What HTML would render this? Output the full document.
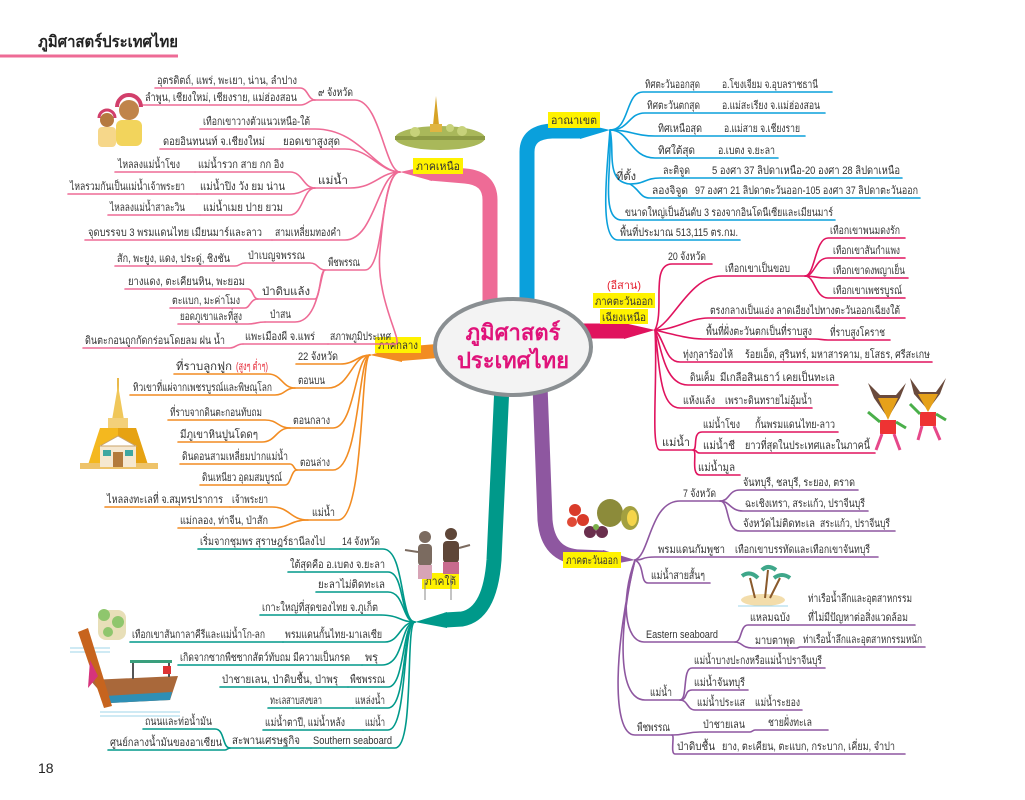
<!DOCTYPE html>
<html><head><meta charset="utf-8"><style>
html,body{margin:0;padding:0;background:#fff;}
svg{display:block;}
text{font-family:"Liberation Sans","Noto Sans CJK SC",sans-serif;font-size:11px;fill:#333;}
.b{font-weight:bold;}
path.l{fill:none;stroke-width:1.6;stroke-linecap:round;}
</style></head><body>
<svg width="1025" height="800" viewBox="0 0 1025 800" xmlns="http://www.w3.org/2000/svg">
<!-- title -->
<text x="38" y="47" class="b" style="font-size:16px;fill:#222" textLength="140" lengthAdjust="spacingAndGlyphs">ภูมิศาสตร์ประเทศไทย</text>
<line x1="0" y1="56" x2="178" y2="56" stroke="#EE6B96" stroke-width="3"/>
<text x="38" y="773" style="font-size:14px;fill:#222">18</text>

<!-- main branches -->
<path d="M490 305 L490 200 Q490 178 465 176 L430 173" stroke="#EE6B96" stroke-width="15" fill="none"/>
<polygon points="432,165 432,181 400,172" fill="#EE6B96"/>
<path d="M527 305 L527 152 Q527 132 552 131 L582 131" stroke="#0AA0DC" stroke-width="15" fill="none"/>
<polygon points="580,123 580,139 610,130" fill="#0AA0DC"/>
<path d="M580 331 L625 331" stroke="#E0135E" stroke-width="15" fill="none"/>
<polygon points="624,323 624,339 655,330" fill="#E0135E"/>
<path d="M450 350 L400 354" stroke="#F28C22" stroke-width="14" fill="none"/>
<polygon points="402,346 402,362 370,355" fill="#F28C22"/>
<path d="M502 385 L494 560 Q490 614 462 619 L445 620" stroke="#00998A" stroke-width="15" fill="none"/>
<polygon points="447,612 447,628 415,622" fill="#00998A"/>
<path d="M540 385 L545 520 Q548 556 580 557 L605 558" stroke="#8E57A0" stroke-width="15" fill="none"/>
<polygon points="603,550 603,566 635,560" fill="#8E57A0"/>

<!-- center ellipse -->
<ellipse cx="513" cy="347" rx="78" ry="48" fill="#f3f3f3" stroke="#8a8f92" stroke-width="4"/>
<text x="513" y="340" text-anchor="middle" class="b" style="font-size:22px;fill:#E0137A">ภูมิศาสตร์</text>
<text x="513" y="368" text-anchor="middle" class="b" style="font-size:22px;fill:#E0137A">ประเทศไทย</text>

<!-- region labels -->
<rect x="413" y="158" width="50" height="16" fill="#FFF200"/><text x="416" y="170" textLength="44" lengthAdjust="spacingAndGlyphs">ภาคเหนือ</text>
<rect x="548" y="112" width="52" height="16" fill="#FFF200"/><text x="551" y="124" textLength="46" lengthAdjust="spacingAndGlyphs">อาณาเขต</text>
<text x="607" y="289" style="fill:#e5202e" textLength="34" lengthAdjust="spacingAndGlyphs">(อีสาน)</text>
<rect x="593" y="293" width="62" height="15" fill="#FFF200"/><text x="595" y="305" textLength="58" lengthAdjust="spacingAndGlyphs">ภาคตะวันออก</text>
<rect x="600" y="309" width="48" height="15" fill="#FFF200"/><text x="602" y="321" textLength="44" lengthAdjust="spacingAndGlyphs">เฉียงเหนือ</text>
<rect x="375" y="337" width="46" height="16" fill="#FFF200"/><text x="378" y="349" textLength="40" lengthAdjust="spacingAndGlyphs">ภาคกลาง</text>
<rect x="422" y="573" width="37" height="16" fill="#FFF200"/><text x="425" y="585" textLength="31" lengthAdjust="spacingAndGlyphs">ภาคใต้</text>
<rect x="563" y="552" width="58" height="16" fill="#FFF200"/><text x="566" y="564" textLength="52" lengthAdjust="spacingAndGlyphs">ภาคตะวันออก</text>

<!-- NORTH -->
<g stroke="#EE6B96">
<path class="l" d="M315 100 L355 100 C380 100 385 172 400 172"/>
<path class="l" d="M155 88 L300 88 C308 88 308 100 315 100"/>
<path class="l" d="M143 105 L300 105 C308 105 308 100 315 100"/>
<path class="l" d="M200 129 L315 129 C360 129 375 172 400 172"/>
<path class="l" d="M280 149 L345 149 C370 149 380 172 400 172"/>
<path class="l" d="M160 149 L270 149 C275 149 275 149 280 149"/>
<path class="l" d="M315 188 L350 188 C375 188 380 172 400 172"/>
<path class="l" d="M195 172 L290 172 C303 172 303 188 315 188"/>
<path class="l" d="M115 172 L185 172 C190 172 190 172 195 172"/>
<path class="l" d="M197 194 L290 194 C303 194 303 188 315 188"/>
<path class="l" d="M68 194 L190 194 C194 194 194 194 197 194"/>
<path class="l" d="M200 215 L290 215 C303 215 303 188 315 188"/>
<path class="l" d="M108 215 L190 215 C195 215 195 215 200 215"/>
<path class="l" d="M272 240 L345 240 C375 240 378 172 400 172"/>
<path class="l" d="M85 240 L265 240 C268 240 268 240 272 240"/>
<path class="l" d="M325 270 L365 270 C385 270 380 172 400 172"/>
<path class="l" d="M245 263 L310 263 C318 263 318 270 325 270"/>
<path class="l" d="M115 266 L235 266 C240 266 240 263 245 263"/>
<path class="l" d="M258 299 L315 299 C320 299 320 270 325 270"/>
<path class="l" d="M125 289 L248 289 C253 289 253 299 258 299"/>
<path class="l" d="M170 308 L245 308 C250 308 250 299 258 299"/>
<path class="l" d="M265 322 L295 322 C320 322 320 270 325 270"/>
<path class="l" d="M178 324 L248 324 C256 324 256 322 265 322"/>
<path class="l" d="M328 344 L395 344 C405 344 375 300 380 250 C384 200 390 172 400 172"/>
<path class="l" d="M243 344 L320 344 C324 344 324 344 328 344"/>
<path class="l" d="M83 348 L230 348 C236 348 236 344 243 344"/>
</g>
<text x="318" y="96" textLength="35" lengthAdjust="spacingAndGlyphs">๙ จังหวัด</text>
<text x="157" y="84" textLength="140" lengthAdjust="spacingAndGlyphs">อุตรดิตถ์, แพร่, พะเยา, น่าน, ลำปาง</text>
<text x="145" y="101" textLength="152" lengthAdjust="spacingAndGlyphs">ลำพูน, เชียงใหม่, เชียงราย, แม่ฮ่องสอน</text>
<text x="203" y="125" textLength="107" lengthAdjust="spacingAndGlyphs">เทือกเขาวางตัวแนวเหนือ-ใต้</text>
<text x="163" y="145" textLength="102" lengthAdjust="spacingAndGlyphs">ดอยอินทนนท์ จ.เชียงใหม่</text>
<text x="283" y="145" textLength="57" lengthAdjust="spacingAndGlyphs">ยอดเขาสูงสุด</text>
<text x="118" y="168" textLength="62" lengthAdjust="spacingAndGlyphs">ไหลลงแม่น้ำโขง</text>
<text x="198" y="168" textLength="86" lengthAdjust="spacingAndGlyphs">แม่น้ำรวก สาย กก อิง</text>
<text x="70" y="190" textLength="115" lengthAdjust="spacingAndGlyphs">ไหลรวมกันเป็นแม่น้ำเจ้าพระยา</text>
<text x="200" y="190" textLength="85" lengthAdjust="spacingAndGlyphs">แม่น้ำปิง วัง ยม น่าน</text>
<text x="318" y="184" textLength="30" lengthAdjust="spacingAndGlyphs">แม่น้ำ</text>
<text x="110" y="211" textLength="75" lengthAdjust="spacingAndGlyphs">ไหลลงแม่น้ำสาละวิน</text>
<text x="203" y="211" textLength="80" lengthAdjust="spacingAndGlyphs">แม่น้ำเมย ปาย ยวม</text>
<text x="88" y="236" textLength="174" lengthAdjust="spacingAndGlyphs">จุดบรรจบ 3 พรมแดนไทย เมียนมาร์และลาว</text>
<text x="275" y="236" textLength="66" lengthAdjust="spacingAndGlyphs">สามเหลี่ยมทองคำ</text>
<text x="117" y="262" textLength="113" lengthAdjust="spacingAndGlyphs">สัก, พะยูง, แดง, ประดู่, ชิงชัน</text>
<text x="248" y="259" textLength="57" lengthAdjust="spacingAndGlyphs">ป่าเบญจพรรณ</text>
<text x="328" y="266" textLength="32" lengthAdjust="spacingAndGlyphs">พืชพรรณ</text>
<text x="128" y="285" textLength="117" lengthAdjust="spacingAndGlyphs">ยางแดง, ตะเคียนหิน, พะยอม</text>
<text x="262" y="295" textLength="48" lengthAdjust="spacingAndGlyphs">ป่าดิบแล้ง</text>
<text x="172" y="304" textLength="68" lengthAdjust="spacingAndGlyphs">ตะแบก, มะค่าโมง</text>
<text x="180" y="320" textLength="62" lengthAdjust="spacingAndGlyphs">ยอดภูเขาและที่สูง</text>
<text x="270" y="318" textLength="21" lengthAdjust="spacingAndGlyphs">ป่าสน</text>
<text x="85" y="344" textLength="140" lengthAdjust="spacingAndGlyphs">ดินตะกอนถูกกัดกร่อนโดยลม ฝน น้ำ</text>
<text x="245" y="340" textLength="70" lengthAdjust="spacingAndGlyphs">แพะเมืองผี จ.แพร่</text>
<text x="330" y="340" textLength="61" lengthAdjust="spacingAndGlyphs">สภาพภูมิประเทศ</text>

<!-- BEARINGS -->
<g stroke="#0AA0DC">
<path class="l" d="M610 130 C630 130 625 92 643 92 L705 92 C712 92 712 92 720 92 L832 92"/>
<path class="l" d="M610 130 C630 130 628 113 645 113 L705 113 C712 113 712 113 720 113 L825 113"/>
<path class="l" d="M610 130 C630 130 635 136 655 136 L708 136 C715 136 715 136 722 136 L805 136"/>
<path class="l" d="M610 130 C630 130 630 158 655 158 L700 158 C708 158 708 158 716 158 L778 158"/>
<path class="l" d="M610 130 C615 150 605 182 630 184 C645 184 645 178 660 178 L695 178 C702 178 702 178 710 178 L902 178"/>
<path class="l" d="M630 184 C640 190 640 198 650 198 L690 198 L920 198"/>
<path class="l" d="M610 130 C612 170 600 220 622 220 L835 220"/>
<path class="l" d="M610 130 C606 180 600 240 618 240 L740 240"/>
</g>
<text x="645" y="88" textLength="55" lengthAdjust="spacingAndGlyphs">ทิศตะวันออกสุด</text>
<text x="722" y="88" textLength="96" lengthAdjust="spacingAndGlyphs">อ.โขงเจียม จ.อุบลราชธานี</text>
<text x="647" y="109" textLength="53" lengthAdjust="spacingAndGlyphs">ทิศตะวันตกสุด</text>
<text x="722" y="109" textLength="98" lengthAdjust="spacingAndGlyphs">อ.แม่สะเรียง จ.แม่ฮ่องสอน</text>
<text x="658" y="132" textLength="44" lengthAdjust="spacingAndGlyphs">ทิศเหนือสุด</text>
<text x="724" y="132" textLength="76" lengthAdjust="spacingAndGlyphs">อ.แม่สาย จ.เชียงราย</text>
<text x="658" y="154" textLength="37" lengthAdjust="spacingAndGlyphs">ทิศใต้สุด</text>
<text x="718" y="154" textLength="57" lengthAdjust="spacingAndGlyphs">อ.เบตง จ.ยะลา</text>
<text x="616" y="180" textLength="20" lengthAdjust="spacingAndGlyphs">ที่ตั้ง</text>
<text x="663" y="174" textLength="27" lengthAdjust="spacingAndGlyphs">ละติจูด</text>
<text x="712" y="174" textLength="188" lengthAdjust="spacingAndGlyphs">5 องศา 37 ลิปดาเหนือ-20 องศา 28 ลิปดาเหนือ</text>
<text x="652" y="194" textLength="36" lengthAdjust="spacingAndGlyphs">ลองจิจูด</text>
<text x="695" y="194" textLength="223" lengthAdjust="spacingAndGlyphs">97 องศา 21 ลิปดาตะวันออก-105 องศา 37 ลิปดาตะวันออก</text>
<text x="625" y="216" textLength="208" lengthAdjust="spacingAndGlyphs">ขนาดใหญ่เป็นอันดับ 3 รองจากอินโดนีเซียและเมียนมาร์</text>
<text x="620" y="236" textLength="118" lengthAdjust="spacingAndGlyphs">พื้นที่ประมาณ 513,115 ตร.กม.</text>

<!-- NORTHEAST -->
<g stroke="#E0135E">
<path class="l" d="M655 330 C665 310 650 264 672 264 L712 264"/>
<path class="l" d="M655 330 C675 320 690 276 722 276 L805 276"/>
<path class="l" d="M805 276 C815 276 815 238 828 238 L905 238"/>
<path class="l" d="M805 276 C815 276 815 258 828 258 L905 258"/>
<path class="l" d="M805 276 C815 276 815 278 828 278 L908 278"/>
<path class="l" d="M805 276 C815 276 815 298 828 298 L905 298"/>
<path class="l" d="M655 330 C675 330 690 318 708 318 L905 318"/>
<path class="l" d="M655 330 C675 335 690 339 703 339 L815 339 C821 339 821 340 828 340 L890 340"/>
<path class="l" d="M655 330 C665 340 665 362 680 362 L735 362 C739 362 739 362 743 362 L932 362"/>
<path class="l" d="M655 330 C662 350 665 385 688 385 L718 385 L838 385"/>
<path class="l" d="M655 330 C660 370 660 408 680 408 L718 408 L812 408"/>
<path class="l" d="M655 330 C658 380 650 450 660 450 L693 450"/>
<path class="l" d="M693 450 C698 450 692 432 702 432 L742 432 C747 432 747 432 752 432 L838 432"/>
<path class="l" d="M693 450 C698 450 695 453 700 453 L738 453 C741 453 741 453 743 453 L875 453"/>
<path class="l" d="M693 450 C698 450 690 475 700 475 L740 475"/>
</g>
<text x="668" y="260" textLength="38" lengthAdjust="spacingAndGlyphs">20 จังหวัด</text>
<text x="725" y="272" textLength="65" lengthAdjust="spacingAndGlyphs">เทือกเขาเป็นขอบ</text>
<text x="830" y="234" textLength="70" lengthAdjust="spacingAndGlyphs">เทือกเขาพนมดงรัก</text>
<text x="833" y="254" textLength="67" lengthAdjust="spacingAndGlyphs">เทือกเขาสันกำแพง</text>
<text x="833" y="274" textLength="72" lengthAdjust="spacingAndGlyphs">เทือกเขาดงพญาเย็น</text>
<text x="833" y="294" textLength="69" lengthAdjust="spacingAndGlyphs">เทือกเขาเพชรบูรณ์</text>
<text x="710" y="314" textLength="190" lengthAdjust="spacingAndGlyphs">ตรงกลางเป็นแอ่ง ลาดเอียงไปทางตะวันออกเฉียงใต้</text>
<text x="706" y="335" textLength="106" lengthAdjust="spacingAndGlyphs">พื้นที่ฝั่งตะวันตกเป็นที่ราบสูง</text>
<text x="830" y="336" textLength="55" lengthAdjust="spacingAndGlyphs">ที่ราบสูงโคราช</text>
<text x="683" y="358" textLength="50" lengthAdjust="spacingAndGlyphs">ทุ่งกุลาร้องไห้</text>
<text x="745" y="358" textLength="185" lengthAdjust="spacingAndGlyphs">ร้อยเอ็ด, สุรินทร์, มหาสารคาม, ยโสธร, ศรีสะเกษ</text>
<text x="690" y="381" textLength="25" lengthAdjust="spacingAndGlyphs">ดินเค็ม</text>
<text x="720" y="381" textLength="115" lengthAdjust="spacingAndGlyphs">มีเกลือสินเธาว์ เคยเป็นทะเล</text>
<text x="683" y="404" textLength="32" lengthAdjust="spacingAndGlyphs">แห้งแล้ง</text>
<text x="725" y="404" textLength="87" lengthAdjust="spacingAndGlyphs">เพราะดินทรายไม่อุ้มน้ำ</text>
<text x="703" y="428" textLength="37" lengthAdjust="spacingAndGlyphs">แม่น้ำโขง</text>
<text x="755" y="428" textLength="80" lengthAdjust="spacingAndGlyphs">กั้นพรมแดนไทย-ลาว</text>
<text x="662" y="446" textLength="28" lengthAdjust="spacingAndGlyphs">แม่น้ำ</text>
<text x="703" y="449" textLength="32" lengthAdjust="spacingAndGlyphs">แม่น้ำชี</text>
<text x="745" y="449" textLength="125" lengthAdjust="spacingAndGlyphs">ยาวที่สุดในประเทศและในภาคนี้</text>
<text x="698" y="471" textLength="37" lengthAdjust="spacingAndGlyphs">แม่น้ำมูล</text>

<!-- CENTRAL -->
<g stroke="#F28C22">
<path class="l" d="M296 364 L340 364 C355 364 358 355 370 355"/>
<path class="l" d="M295 388 L328 388 C350 388 352 355 370 355"/>
<path class="l" d="M174 374 L268 374 C282 374 282 388 295 388"/>
<path class="l" d="M130 395 L275 395 C285 395 285 388 295 388"/>
<path class="l" d="M290 428 L333 428 C355 428 355 355 370 355"/>
<path class="l" d="M168 420 L265 420 C278 420 278 428 290 428"/>
<path class="l" d="M178 442 L262 442 C276 442 276 428 290 428"/>
<path class="l" d="M297 470 L333 470 C360 470 358 355 370 355"/>
<path class="l" d="M180 464 L290 464 C294 464 294 470 297 470"/>
<path class="l" d="M200 485 L285 485 C291 485 291 470 297 470"/>
<path class="l" d="M308 520 L338 520 C365 520 360 355 370 355"/>
<path class="l" d="M230 507 L272 507 C290 507 290 520 308 520"/>
<path class="l" d="M105 507 L225 507 C227 507 228 507 230 507"/>
<path class="l" d="M178 528 L270 528 C290 528 290 520 308 520"/>
</g>
<text x="298" y="360" textLength="40" lengthAdjust="spacingAndGlyphs">22 จังหวัด</text>
<text x="176" y="370" textLength="56" lengthAdjust="spacingAndGlyphs">ที่ราบลูกฟูก</text>
<text x="236" y="370" style="fill:#e5202e" textLength="32" lengthAdjust="spacingAndGlyphs">(สูงๆ ต่ำๆ)</text>
<text x="298" y="384" textLength="27" lengthAdjust="spacingAndGlyphs">ตอนบน</text>
<text x="133" y="391" textLength="139" lengthAdjust="spacingAndGlyphs">ทิวเขาที่แผ่จากเพชรบูรณ์และพิษณุโลก</text>
<text x="170" y="416" textLength="92" lengthAdjust="spacingAndGlyphs">ที่ราบจากดินตะกอนทับถม</text>
<text x="293" y="424" textLength="37" lengthAdjust="spacingAndGlyphs">ตอนกลาง</text>
<text x="180" y="438" textLength="78" lengthAdjust="spacingAndGlyphs">มีภูเขาหินปูนโดดๆ</text>
<text x="182" y="460" textLength="106" lengthAdjust="spacingAndGlyphs">ดินดอนสามเหลี่ยมปากแม่น้ำ</text>
<text x="300" y="466" textLength="30" lengthAdjust="spacingAndGlyphs">ตอนล่าง</text>
<text x="202" y="481" textLength="80" lengthAdjust="spacingAndGlyphs">ดินเหนียว อุดมสมบูรณ์</text>
<text x="107" y="503" textLength="116" lengthAdjust="spacingAndGlyphs">ไหลลงทะเลที่ จ.สมุทรปราการ</text>
<text x="232" y="503" textLength="36" lengthAdjust="spacingAndGlyphs">เจ้าพระยา</text>
<text x="312" y="516" textLength="23" lengthAdjust="spacingAndGlyphs">แม่น้ำ</text>
<text x="180" y="524" textLength="88" lengthAdjust="spacingAndGlyphs">แม่กลอง, ท่าจีน, ป่าสัก</text>

<!-- SOUTH -->
<g stroke="#00998A">
<path class="l" d="M340 549 L383 549 C405 549 400 622 415 622"/>
<path class="l" d="M198 549 L328 549 C334 549 334 549 340 549"/>
<path class="l" d="M288 572 L388 572 C405 572 400 622 415 622"/>
<path class="l" d="M316 592 L388 592 C405 592 402 622 415 622"/>
<path class="l" d="M260 615 L380 615 C400 615 400 622 415 622"/>
<path class="l" d="M283 642 L385 642 C400 642 400 622 415 622"/>
<path class="l" d="M130 642 L268 642 C276 642 276 642 283 642"/>
<path class="l" d="M362 665 L382 665 C405 665 400 622 415 622"/>
<path class="l" d="M178 665 L352 665 C357 665 357 665 362 665"/>
<path class="l" d="M348 687 L388 687 C405 687 402 622 415 622"/>
<path class="l" d="M220 687 L340 687 C344 687 344 687 348 687"/>
<path class="l" d="M353 708 L388 708 C407 708 402 622 415 622"/>
<path class="l" d="M268 708 L325 708 C339 708 339 708 353 708"/>
<path class="l" d="M363 730 L388 730 C408 730 402 622 415 622"/>
<path class="l" d="M263 730 L348 730 C355 730 355 730 363 730"/>
<path class="l" d="M311 748 L395 748 C415 748 405 622 415 622"/>
<path class="l" d="M230 748 L302 748 C306 748 306 748 311 748"/>
<path class="l" d="M143 729 L215 729 C225 729 222 748 230 748"/>
<path class="l" d="M108 750 L225 750 C227 750 228 748 230 748"/>
</g>
<text x="200" y="545" textLength="125" lengthAdjust="spacingAndGlyphs">เริ่มจากชุมพร สุราษฎร์ธานีลงไป</text>
<text x="342" y="545" textLength="38" lengthAdjust="spacingAndGlyphs">14 จังหวัด</text>
<text x="290" y="568" textLength="95" lengthAdjust="spacingAndGlyphs">ใต้สุดคือ อ.เบตง จ.ยะลา</text>
<text x="318" y="588" textLength="67" lengthAdjust="spacingAndGlyphs">ยะลาไม่ติดทะเล</text>
<text x="262" y="611" textLength="116" lengthAdjust="spacingAndGlyphs">เกาะใหญ่ที่สุดของไทย จ.ภูเก็ต</text>
<text x="132" y="638" textLength="133" lengthAdjust="spacingAndGlyphs">เทือกเขาสันกาลาคีรีและแม่น้ำโก-ลก</text>
<text x="285" y="638" textLength="97" lengthAdjust="spacingAndGlyphs">พรมแดนกั้นไทย-มาเลเซีย</text>
<text x="180" y="661" textLength="170" lengthAdjust="spacingAndGlyphs">เกิดจากซากพืชซากสัตว์ทับถม มีความเป็นกรด</text>
<text x="365" y="661" textLength="13" lengthAdjust="spacingAndGlyphs">พรุ</text>
<text x="222" y="683" textLength="116" lengthAdjust="spacingAndGlyphs">ป่าชายเลน, ป่าดิบชื้น, ป่าพรุ</text>
<text x="350" y="683" textLength="35" lengthAdjust="spacingAndGlyphs">พืชพรรณ</text>
<text x="270" y="704" textLength="52" lengthAdjust="spacingAndGlyphs">ทะเลสาบสงขลา</text>
<text x="355" y="704" textLength="30" lengthAdjust="spacingAndGlyphs">แหล่งน้ำ</text>
<text x="265" y="726" textLength="80" lengthAdjust="spacingAndGlyphs">แม่น้ำตาปี, แม่น้ำหลัง</text>
<text x="365" y="726" textLength="20" lengthAdjust="spacingAndGlyphs">แม่น้ำ</text>
<text x="145" y="725" textLength="67" lengthAdjust="spacingAndGlyphs">ถนนและท่อน้ำมัน</text>
<text x="110" y="746" textLength="112" lengthAdjust="spacingAndGlyphs">ศูนย์กลางน้ำมันของอาเซียน</text>
<text x="232" y="744" textLength="68" lengthAdjust="spacingAndGlyphs">สะพานเศรษฐกิจ</text>
<text x="313" y="744" textLength="79" lengthAdjust="spacingAndGlyphs">Southern seaboard</text>

<!-- EAST -->
<g stroke="#8E57A0">
<path class="l" d="M635 560 C650 555 650 501 680 501 L720 501"/>
<path class="l" d="M720 501 C730 501 728 490 740 490 L858 490"/>
<path class="l" d="M720 501 C730 501 730 511 743 511 L868 511"/>
<path class="l" d="M720 501 C730 501 725 531 740 531 L815 531 C817 531 817 531 818 531 L895 531"/>
<path class="l" d="M635 560 C645 560 640 557 655 557 L728 557 C730 557 731 557 733 557 L878 557"/>
<path class="l" d="M635 560 C645 565 640 583 648 583 L710 583"/>
<path class="l" d="M635 560 C620 600 625 642 644 642 L735 642"/>
<path class="l" d="M735 642 C742 642 740 625 748 625 L795 625 C800 625 800 625 805 625 L915 625"/>
<path class="l" d="M735 642 C742 642 742 648 752 648 L797 648 C798 648 799 647 800 647 L925 647"/>
<path class="l" d="M635 560 C620 620 615 700 645 700 L680 700"/>
<path class="l" d="M680 700 C688 700 682 668 692 668 L825 668"/>
<path class="l" d="M680 700 C688 700 684 690 692 690 L748 690"/>
<path class="l" d="M680 700 C688 700 687 710 695 710 L750 710 C751 710 752 710 753 710 L802 710"/>
<path class="l" d="M635 560 C615 640 610 735 635 735 L672 735"/>
<path class="l" d="M672 735 C686 735 686 732 700 732 L750 732 C752 732 753 730 755 730 L828 730"/>
<path class="l" d="M672 735 C675 735 670 754 675 754 L718 754 C719 754 719 754 720 754 L905 754"/>
</g>
<text x="683" y="497" textLength="33" lengthAdjust="spacingAndGlyphs">7 จังหวัด</text>
<text x="743" y="486" textLength="112" lengthAdjust="spacingAndGlyphs">จันทบุรี, ชลบุรี, ระยอง, ตราด</text>
<text x="745" y="507" textLength="120" lengthAdjust="spacingAndGlyphs">ฉะเชิงเทรา, สระแก้ว, ปราจีนบุรี</text>
<text x="743" y="527" textLength="72" lengthAdjust="spacingAndGlyphs">จังหวัดไม่ติดทะเล</text>
<text x="820" y="527" textLength="70" lengthAdjust="spacingAndGlyphs">สระแก้ว, ปราจีนบุรี</text>
<text x="658" y="553" textLength="67" lengthAdjust="spacingAndGlyphs">พรมแดนกัมพูชา</text>
<text x="735" y="553" textLength="135" lengthAdjust="spacingAndGlyphs">เทือกเขาบรรทัดและเทือกเขาจันทบุรี</text>
<text x="651" y="579" textLength="54" lengthAdjust="spacingAndGlyphs">แม่น้ำสายสั้นๆ</text>
<text x="808" y="602" textLength="104" lengthAdjust="spacingAndGlyphs">ท่าเรือน้ำลึกและอุตสาหกรรม</text>
<text x="808" y="621" textLength="100" lengthAdjust="spacingAndGlyphs">ที่ไม่มีปัญหาต่อสิ่งแวดล้อม</text>
<text x="750" y="621" textLength="40" lengthAdjust="spacingAndGlyphs">แหลมฉบัง</text>
<text x="646" y="638" textLength="72" lengthAdjust="spacingAndGlyphs">Eastern seaboard</text>
<text x="755" y="644" textLength="40" lengthAdjust="spacingAndGlyphs">มาบตาพุด</text>
<text x="803" y="643" textLength="119" lengthAdjust="spacingAndGlyphs">ท่าเรือน้ำลึกและอุตสาหกรรมหนัก</text>
<text x="694" y="664" textLength="128" lengthAdjust="spacingAndGlyphs">แม่น้ำบางปะกงหรือแม่น้ำปราจีนบุรี</text>
<text x="694" y="686" textLength="51" lengthAdjust="spacingAndGlyphs">แม่น้ำจันทบุรี</text>
<text x="650" y="696" textLength="22" lengthAdjust="spacingAndGlyphs">แม่น้ำ</text>
<text x="697" y="706" textLength="48" lengthAdjust="spacingAndGlyphs">แม่น้ำประแส</text>
<text x="755" y="706" textLength="45" lengthAdjust="spacingAndGlyphs">แม่น้ำระยอง</text>
<text x="637" y="731" textLength="33" lengthAdjust="spacingAndGlyphs">พืชพรรณ</text>
<text x="703" y="728" textLength="42" lengthAdjust="spacingAndGlyphs">ป่าชายเลน</text>
<text x="768" y="726" textLength="44" lengthAdjust="spacingAndGlyphs">ชายฝั่งทะเล</text>
<text x="677" y="750" textLength="38" lengthAdjust="spacingAndGlyphs">ป่าดิบชื้น</text>
<text x="722" y="750" textLength="173" lengthAdjust="spacingAndGlyphs">ยาง, ตะเคียน, ตะแบก, กระบาก, เคี่ยม, จำปา</text>

<!-- illustrations -->
<!-- karen women -->
<g>
<rect x="98" y="127" width="18" height="20" rx="4" fill="#f6d78a"/>
<circle cx="107" cy="120" r="7" fill="#b5793f"/><path d="M99 118 A8 8 0 0 1 115 118" stroke="#d23f6b" stroke-width="3" fill="none"/>
<rect x="116" y="120" width="26" height="26" rx="6" fill="#f2d45c"/>
<circle cx="129" cy="110" r="10" fill="#c0844a"/><path d="M117 107 A12 12 0 0 1 141 107" stroke="#d23f6b" stroke-width="4" fill="none"/>
</g>
<!-- doi pagoda -->
<g>
<ellipse cx="440" cy="138" rx="45" ry="12" fill="#a9b85a"/>
<rect x="395" y="136" width="90" height="4" fill="#8d9b45"/>
<polygon points="436,96 433,125 439,125" fill="#d7a326"/>
<rect x="430" y="124" width="12" height="8" fill="#e0b542"/>
<circle cx="415" cy="132" r="5" fill="#c7d27a"/><circle cx="462" cy="131" r="5" fill="#c7d27a"/><circle cx="450" cy="128" r="4" fill="#c7d27a"/>
</g>
<!-- golden chedi -->
<g>
<line x1="118" y1="378" x2="118" y2="405" stroke="#e9b94a" stroke-width="2"/>
<polygon points="118,385 112,420 124,420" fill="#f0c75a"/>
<rect x="108" y="418" width="20" height="10" fill="#f3d07a"/>
<path d="M100 428 Q96 440 88 465 L148 465 Q140 440 136 428 Z" fill="#f4b81f"/>
<path d="M118 428 L136 428 Q140 440 148 465 L118 465 Z" fill="#e6a213"/>
<rect x="80" y="463" width="78" height="6" fill="#eec36a"/>
<rect x="100" y="445" width="36" height="22" fill="#f6e8d0"/>
<rect x="113" y="452" width="10" height="15" fill="#b37b3c"/>
<polygon points="100,446 118,436 136,446" fill="#fff" stroke="#c9a36b" stroke-width="1"/>
<rect x="103" y="450" width="8" height="6" fill="#3fa7a1"/><rect x="125" y="450" width="8" height="6" fill="#3fa7a1"/>
</g>
<!-- shadow puppets -->
<g fill="#7b6b60">
<circle cx="425" cy="537" r="6"/><rect x="418" y="544" width="14" height="22" rx="4"/>
<rect x="418" y="565" width="14" height="14" fill="#d7a4b6"/>
<line x1="425" y1="580" x2="425" y2="600" stroke="#888" stroke-width="1"/>
<circle cx="451" cy="534" r="6" fill="#5e4638"/><rect x="443" y="541" width="16" height="22" rx="4" fill="#5e4638"/>
<rect x="443" y="562" width="16" height="12" fill="#c86b8e"/>
<line x1="451" y1="575" x2="451" y2="600" stroke="#888" stroke-width="1"/>
<path d="M418 552 L405 550 M459 548 L470 545" stroke="#7b6b60" stroke-width="2"/>
</g>
<!-- boat and rock -->
<g>
<rect x="98" y="610" width="28" height="30" rx="8" fill="#e8dfb8"/>
<circle cx="104" cy="615" r="6" fill="#8fc66d"/><circle cx="118" cy="622" r="6" fill="#8fc66d"/><circle cx="108" cy="632" r="5" fill="#8fc66d"/>
<path d="M70 648 h40 M70 652 h40" stroke="#9fd4e8" stroke-width="1"/>
<path d="M90 680 L178 676 L170 700 L110 703 Z" fill="#a9683a"/>
<path d="M105 696 L172 692 L170 700 L110 703 Z" fill="#2e8fb5"/>
<rect x="130" y="660" width="42" height="3" fill="#3a9f7c"/>
<rect x="132" y="663" width="2" height="16" fill="#555"/><rect x="168" y="663" width="2" height="14" fill="#555"/>
<rect x="163" y="666" width="8" height="8" fill="#d33"/>
<path d="M78 632 L88 628 L112 706 L104 708 Z" fill="#c7641e"/>
<path d="M90 660 L98 676 L88 688 Z" fill="#d6337c"/>
<path d="M100 712 h80 M100 716 h80" stroke="#9fd4e8" stroke-width="1"/>
</g>
<!-- fruits -->
<g>
<circle cx="575" cy="510" r="6" fill="#d93b2a"/><circle cx="583" cy="520" r="6" fill="#d93b2a"/><circle cx="572" cy="522" r="5" fill="#e04a36"/>
<circle cx="590" cy="532" r="6" fill="#6a2f4d"/><circle cx="602" cy="532" r="6" fill="#6a2f4d"/><circle cx="596" cy="527" r="3" fill="#7bb04a"/>
<ellipse cx="610" cy="513" rx="13" ry="14" fill="#8c8b3a"/>
<ellipse cx="630" cy="518" rx="9" ry="12" fill="#a3a040"/><ellipse cx="632" cy="518" rx="5" ry="8" fill="#f5d54a"/>
</g>
<!-- phi ta khon -->
<g>
<path d="M868 383 L880 395 L896 395 L906 383 L900 398 L888 418 L874 398 Z" fill="#6a4a3c"/>
<path d="M878 398 L898 398 L888 420 Z" fill="#e6a11a"/>
<rect x="880" y="420" width="16" height="14" fill="#e33"/>
<path d="M882 434 L876 450 M894 434 L900 450" stroke="#e6488a" stroke-width="3"/>
<path d="M880 422 L868 412 M896 422 L906 428" stroke="#4aaf4a" stroke-width="3"/>
<path d="M910 378 L920 392 L936 392 L946 378 L940 394 L928 410 L914 394 Z" fill="#6a4a3c"/>
<path d="M918 394 L938 394 L928 412 Z" fill="#e6a11a"/>
<rect x="920" y="412" width="16" height="14" fill="#e33"/>
<path d="M922 426 L918 440 M934 426 L940 440" stroke="#e6488a" stroke-width="3"/>
<path d="M920 414 L910 404 M936 414 L946 420" stroke="#4aaf4a" stroke-width="3"/>
</g>
<!-- palm island -->
<g>
<ellipse cx="763" cy="600" rx="22" ry="6" fill="#f3ddab"/>
<path d="M755 598 L750 578 M765 598 L768 570 M770 598 L780 578" stroke="#8a5a2c" stroke-width="2"/>
<path d="M742 576 Q750 570 758 578 M762 570 Q768 564 776 570 M774 578 Q782 572 790 578" stroke="#3fa78a" stroke-width="4" fill="none"/>
<path d="M738 606 h50" stroke="#9fd4e8" stroke-width="1"/>
</g>
</svg>
</body></html>
